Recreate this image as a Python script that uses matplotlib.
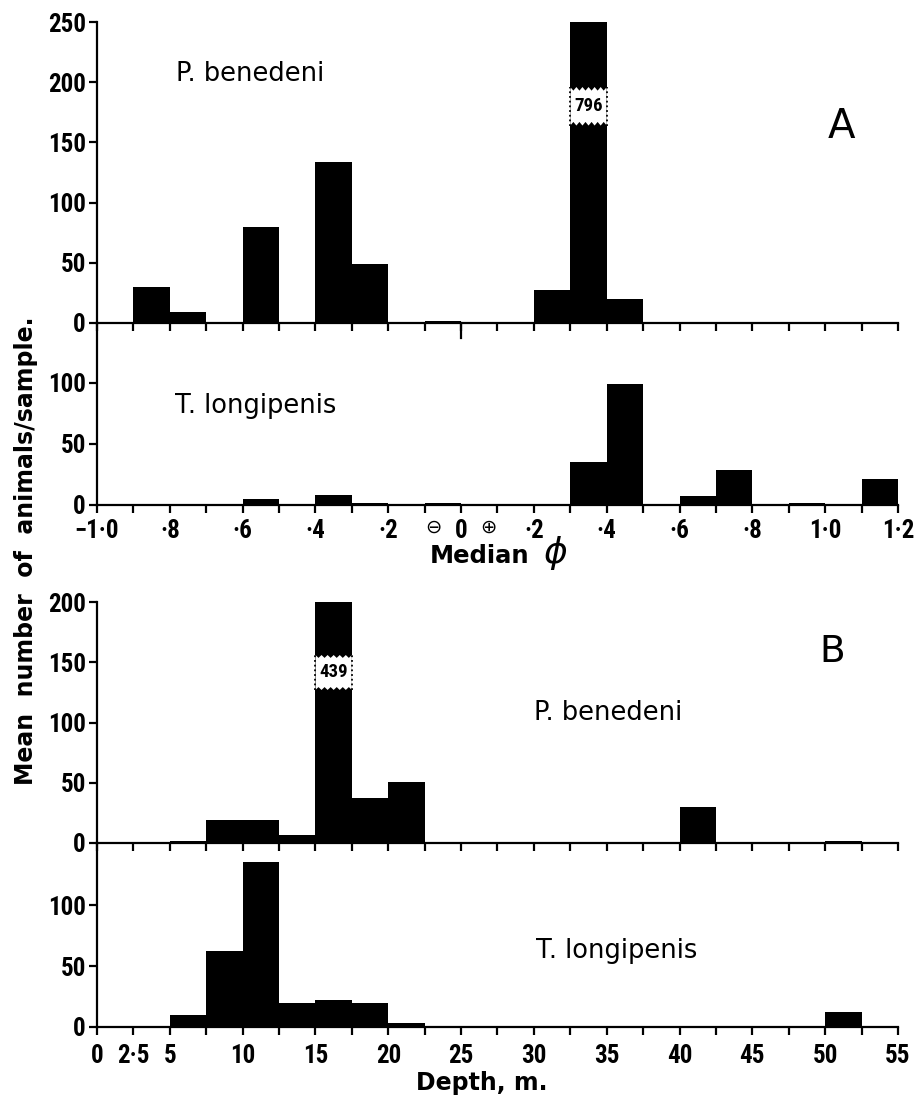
import matplotlib
matplotlib.use("Agg")
import matplotlib.pyplot as plt
from matplotlib import font_manager
import numpy as np

# ---------------- data ----------------
# Panel A: median phi classes (left edges, width 0.1)
phi_left = [-1.0, -0.9, -0.8, -0.7, -0.6, -0.5, -0.4, -0.3, -0.2, -0.1, 0.0,
            0.1, 0.2, 0.3, 0.4, 0.5, 0.6, 0.7, 0.8, 0.9, 1.0, 1.1]
phi_width = 0.1
pbA = [0, 30, 9, 0, 80, 0, 134, 49, 0, 2, 0,
       0, 27, 796, 20, 0, 0, 0, 0, 0, 0, 0]
tlA = [0, 0, 0, 0, 5, 0, 8, 2, 0, 2, 0,
       0, 1, 35, 99, 0, 7, 29, 0, 2, 0, 21]
phi_ticks = [-1.0, -0.9, -0.8, -0.7, -0.6, -0.5, -0.4, -0.3, -0.2, -0.1, 0.0,
             0.1, 0.2, 0.3, 0.4, 0.5, 0.6, 0.7, 0.8, 0.9, 1.0, 1.1, 1.2]
phi_labels = ["\u22121\u00b70", "", "\u00b78", "", "\u00b76", "", "\u00b74", "", "\u00b72", "", "0",
              "", "\u00b72", "", "\u00b74", "", "\u00b76", "", "\u00b78", "", "1\u00b70", "", "1\u00b72"]

# Panel B: depth classes (left edges, width 2.5 m)
depth_left = [0, 2.5, 5, 7.5, 10, 12.5, 15, 17.5, 20, 22.5, 25, 27.5, 30, 32.5,
              35, 37.5, 40, 42.5, 45, 47.5, 50, 52.5]
depth_width = 2.5
pbB = [0, 1, 2, 19, 19, 7, 439, 37, 51, 0, 0, 0, 0, 0,
       0, 0, 30, 0, 0, 0, 1.5, 0]
tlB = [0, 0, 10, 62, 135, 20, 22, 20, 3, 0, 0, 0, 0, 0,
       0, 0, 0, 0, 0, 0, 12, 0]
depth_ticks = [0, 2.5, 5, 7.5, 10, 12.5, 15, 17.5, 20, 22.5, 25, 27.5, 30, 32.5,
               35, 37.5, 40, 42.5, 45, 47.5, 50, 52.5, 55]
depth_labels = ["0", "2\u00b75", "5", "", "10", "", "15", "", "20", "", "25", "", "30", "",
                "35", "", "40", "", "45", "", "50", "", "55"]

# ---------------- fonts ----------------
_fonts = font_manager.fontManager.ttflist
_names = {f.name for f in _fonts}
if "Liberation Sans Narrow" in _names:
    tickfont = dict(family=["Liberation Sans Narrow", "DejaVu Sans"], fontweight="bold", fontsize=18)
elif "Roboto Condensed" in _names:
    tickfont = dict(family=["Roboto Condensed", "DejaVu Sans"], fontweight="bold", fontsize=18)
elif any(f.name == "DejaVu Sans" and f.stretch == "condensed" for f in _fonts):
    tickfont = dict(family=["DejaVu Sans"], fontweight="bold", fontstretch="condensed", fontsize=16)
else:
    tickfont = dict(family=["Liberation Sans", "DejaVu Sans"], fontweight="bold", fontsize=15)
breakfont = dict(tickfont, fontsize=13.5)

# ---------------- style ----------------
W_PX, H_PX = 917, 1097
fig = plt.figure(figsize=(W_PX / 100, H_PX / 100), dpi=100)
fig.patch.set_facecolor("white")
LW = 1.6


def px_axes(top, bottom, left=97, right=898):
    return fig.add_axes([left / W_PX, 1 - bottom / H_PX, (right - left) / W_PX, (bottom - top) / H_PX])


def style_axes(ax):
    for s in ("top", "right"):
        ax.spines[s].set_visible(False)
    for s in ("left", "bottom"):
        ax.spines[s].set_linewidth(LW)
    ax.set_facecolor("none")
    ax.tick_params(axis="both", direction="out", width=LW, color="black")
    ax.tick_params(axis="y", length=6, pad=2)
    ax.tick_params(axis="x", length=6, pad=4)


def draw_break(ax, left, width, value, frac_lo, frac_hi, nteeth=6):
    ymax = ax.get_ylim()[1]
    lo, hi = frac_lo * ymax, frac_hi * ymax
    amp = 0.012 * ymax
    xs = np.linspace(left, left + width, 2 * nteeth + 1)
    top = [hi - (amp if i % 2 else 0) for i in range(len(xs))]
    bot = [lo + (amp if i % 2 else 0) for i in range(len(xs))]
    poly_x = list(xs) + list(xs[::-1])
    poly_y = top + bot[::-1]
    ax.fill(poly_x, poly_y, color="white", zorder=3, lw=0)
    for xx in (left, left + width):
        ax.plot([xx, xx], [lo, hi], color="black", lw=1.3, ls=(0, (1, 1.6)), zorder=4)
    ax.text(left + width / 2, (lo + hi) / 2, f"{value}", ha="center", va="center", zorder=5, **breakfont)


# ---------------- Panel A ----------------
axA1 = px_axes(22, 323)
axA2 = px_axes(323, 505)
for ax, vals, ytop, yt in ((axA1, pbA, 250, [0, 50, 100, 150, 200, 250]),
                           (axA2, tlA, 149, [0, 50, 100])):
    style_axes(ax)
    ax.bar(phi_left, vals, width=phi_width, align="edge", color="black", lw=0, zorder=2)
    ax.set_xlim(phi_ticks[0], phi_ticks[-1])
    ax.set_ylim(0, ytop)
    ax.set_yticks(yt, [str(v) for v in yt], **tickfont)

axA1.set_xticks(phi_ticks, [""] * len(phi_ticks))
axA2.set_xticks(phi_ticks, phi_labels, **tickfont)
# longer tick at phi = 0 on the upper axis
axA1.plot([0, 0], [0, -0.05], color="black", lw=LW, transform=axA1.get_xaxis_transform(), clip_on=False)
# circled signs around the 0 label
for sym, dx in (("\u2296", -28), ("\u2295", 27)):
    axA2.annotate(sym, xy=(0, 0), xycoords=axA2.get_xaxis_transform(), xytext=(dx, -22),
                  textcoords="offset pixels", ha="center", va="center", fontsize=14,
                  family="DejaVu Sans")

imax = int(np.argmax(pbA))
draw_break(axA1, phi_left[imax], phi_width, pbA[imax], 0.656, 0.784)

# ---------------- Panel B ----------------
axB1 = px_axes(602, 843)
axB2 = px_axes(843, 1027)
for ax, vals, ytop, yt in ((axB1, pbB, 200, [0, 50, 100, 150, 200]),
                           (axB2, tlB, 151, [0, 50, 100])):
    style_axes(ax)
    ax.bar(depth_left, vals, width=depth_width, align="edge", color="black", lw=0, zorder=2)
    ax.set_xlim(depth_ticks[0], depth_ticks[-1])
    ax.set_ylim(0, ytop)
    ax.set_yticks(yt, [str(v) for v in yt], **tickfont)

axB1.set_xticks(depth_ticks, [""] * len(depth_ticks))
axB2.set_xticks(depth_ticks, depth_labels, **tickfont)
axB2.tick_params(axis="x", pad=6)

imax = int(np.argmax(pbB))
draw_break(axB1, depth_left[imax], depth_width, pbB[imax], 0.635, 0.78)

# ---------------- text ----------------
sp = dict(family="DejaVu Sans", fontsize=18.5, va="baseline", ha="center")
fig.text(250 / W_PX, 1 - 81 / H_PX, "P. benedeni", **sp)
fig.text(256 / W_PX, 1 - 413 / H_PX, "T. longipenis", **sp)
fig.text(608 / W_PX, 1 - 720 / H_PX, "P. benedeni", **sp)
fig.text(617 / W_PX, 1 - 958 / H_PX, "T. longipenis", **sp)

fig.text(841 / W_PX, 1 - 138 / H_PX, "A", family="DejaVu Sans", fontsize=29, ha="center", va="baseline")
fig.text(832 / W_PX, 1 - 662 / H_PX, "B", family="DejaVu Sans", fontsize=27, ha="center", va="baseline")

fig.text(480 / W_PX, 1 - 563 / H_PX, "Median", family="DejaVu Sans", fontweight="bold",
         fontsize=17.5, ha="center", va="baseline")
fig.text(556 / W_PX, 1 - 553 / H_PX, "\u03d5", family="DejaVu Sans", style="italic",
         fontsize=26, ha="center", va="center")
fig.text(482 / W_PX, 1 - 1090 / H_PX, "Depth, m.", family="DejaVu Sans", fontweight="bold",
         fontsize=17, ha="center", va="baseline")

fig.text(26 / W_PX, 1 - 551 / H_PX, "Mean  number  of  animals/sample.", family="DejaVu Sans",
         fontweight="bold", fontsize=17, rotation=90, ha="center", va="center")

fig.savefig("out.png", dpi=100, facecolor="white")
